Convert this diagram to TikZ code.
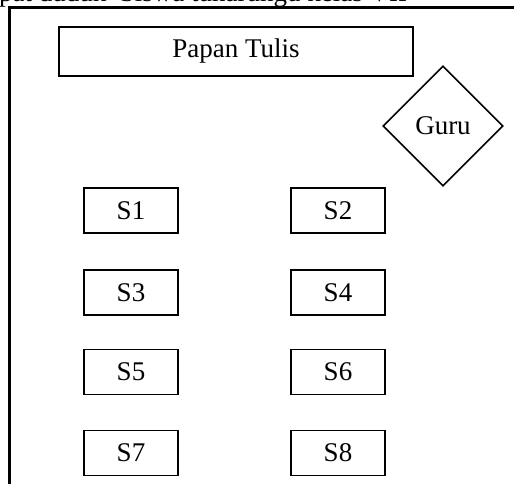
\documentclass[tikz,border=0pt]{standalone}
\usepackage{fontspec}
\setmainfont{Liberation Serif}
\usetikzlibrary{shapes.geometric}
\tikzset{
  lbl/.style={font=\fontsize{27}{32}\selectfont},
  seat/.style={draw, line width=1.6pt, minimum width=94pt, minimum height=45pt, inner sep=0pt, lbl},
  board/.style={draw, line width=1.6pt, minimum width=354pt, minimum height=49pt, inner sep=0pt, lbl},
  teacher/.style={draw, diamond, line width=1.6pt, minimum width=120pt, minimum height=120pt, inner sep=0pt, lbl},
  wall/.style={line width=3pt}
}
\begin{document}
\begin{tikzpicture}[x=1pt, y=-1pt]
  \useasboundingbox (0,0) rectangle (514,484);
  % caption line running above the frame (only its lower edge shows)
  \begin{scope}
    \clip (0,0) rectangle (514,484);
    \node[lbl, anchor=base west, inner sep=0pt] (caption) at (-1,1.5) {pat duduk\ \ Siswa tunarungu kelas VII};
  \end{scope}
  % classroom walls
  \draw[wall] (9,490) -- (9,8) -- (520,8);
  % board and teacher
  \node[board] (papan) at (236,51.5) {Papan Tulis};
  \node[teacher] (guru) at (443,126) {Guru};
  % student seats
  \node[seat] (s1) at (131,210.5) {S1};
  \node[seat] (s2) at (338,210.5) {S2};
  \node[seat] (s3) at (131,292.5) {S3};
  \node[seat] (s4) at (338,292.5) {S4};
  \node[seat] (s5) at (131,372) {S5};
  \node[seat] (s6) at (338,372) {S6};
  \node[seat] (s7) at (131,453) {S7};
  \node[seat] (s8) at (338,453) {S8};
\end{tikzpicture}
\end{document}
